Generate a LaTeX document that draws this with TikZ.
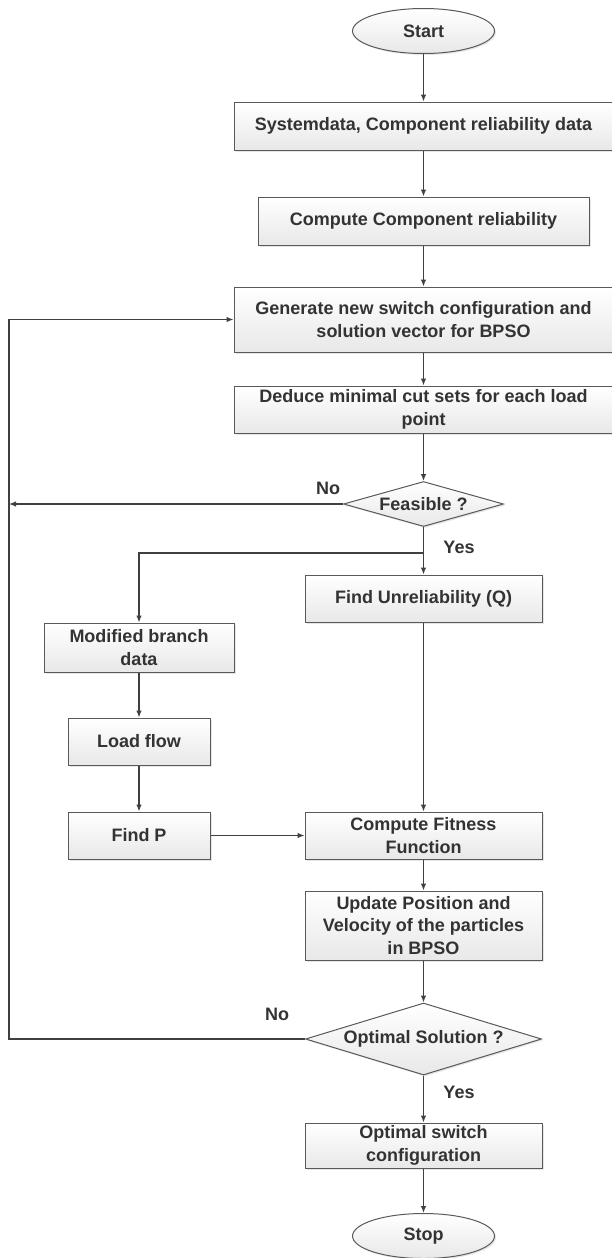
\documentclass[tikz,border=0pt]{standalone}
\usepackage{fontspec}
\setmainfont{Liberation Sans}
\usetikzlibrary{shapes.geometric, arrows.meta, shadows}
\tikzset{
    block/.style = {draw = black!65, line width = 1pt, top color = white, bottom color = gray!18,
        drop shadow = {opacity = 0.2, shadow xshift = 1.5pt, shadow yshift = -1.5pt},
        align = center, inner sep = 0pt},
    term/.style = {block, ellipse},
    decision/.style = {block, diamond},
    arr/.style = {draw = black!75, line width = 1.2pt, -{Latex[length = 7pt, width = 5.5pt]}}
}
\begin{document}
\begin{tikzpicture}[x = 1pt, y = -1pt, font = \fontsize{18}{22.5}\selectfont\bfseries, text = black!80]
        \useasboundingbox (0, 0) rectangle (611, 1258);
        \node[term, minimum width = 142pt, minimum height = 45pt] (start) at (423.5, 31) {Start};
        \node[block, minimum width = 379pt, minimum height = 48pt] (sys) at (423.5, 126) {Systemdata, Component reliability data};
        \node[block, minimum width = 331pt, minimum height = 48pt] (comp) at (423.5, 221) {Compute Component reliability};
        \node[block, minimum width = 379pt, minimum height = 65pt] (gen) at (423.5, 319.5) {Generate new switch configuration and\\solution vector for BPSO};
        \node[block, minimum width = 379pt, minimum height = 47pt] (ded) at (423.5, 409.5) {Deduce minimal cut sets for each load\\point};
        \node[decision, shape aspect = 3.56, minimum width = 160pt, minimum height = 45pt] (feas) at (423.5, 504) {Feasible ?};
        \node[block, minimum width = 237pt, minimum height = 47pt] (unrel) at (423.5, 598.5) {Find Unreliability (Q)};
        \node[block, minimum width = 190pt, minimum height = 49pt] (mod) at (139, 647.5) {Modified branch\\data};
        \node[block, minimum width = 142pt, minimum height = 47pt] (load) at (139, 741.5) {Load flow};
        \node[block, minimum width = 142pt, minimum height = 47pt] (findp) at (139, 835.5) {Find P};
        \node[block, minimum width = 237pt, minimum height = 47pt] (fit) at (423.5, 835.5) {Compute Fitness\\Function};
        \node[block, minimum width = 237pt, minimum height = 69pt] (upd) at (423.5, 925.5) {Update Position and\\Velocity of the particles\\in BPSO};
        \node[decision, shape aspect = 3.28, minimum width = 236pt, minimum height = 72pt] (opt) at (423.5, 1039) {Optimal Solution ?};
        \node[block, minimum width = 237pt, minimum height = 45pt] (sw) at (423.5, 1145.5) {Optimal switch\\configuration};
        \node[term, minimum width = 142pt, minimum height = 45pt] (stop) at (423.5, 1236) {Stop};
        \node (no1) at (328, 488) {No};
        \node (yes1) at (459, 547) {Yes};
        \node (no2) at (277, 1014) {No};
        \node (yes2) at (459, 1092) {Yes};
        \coordinate (split) at (423.5, 553);
        \coordinate (left) at (9, 0);
        \foreach \a/\b in {start/sys, sys/comp, comp/gen, gen/ded, ded/feas, feas/unrel, mod/load, load/findp, findp/fit, unrel/fit, fit/upd, upd/opt, opt/sw, sw/stop}
            {\draw[arr] (\a) -- (\b);};
        \draw[arr] (split) -| (mod.north);
        \draw[arr] (feas.west) -- (feas.west -| left);
        \draw[arr] (opt.west) -- (opt.west -| left) |- (gen.west);
\end{tikzpicture}
\end{document}
